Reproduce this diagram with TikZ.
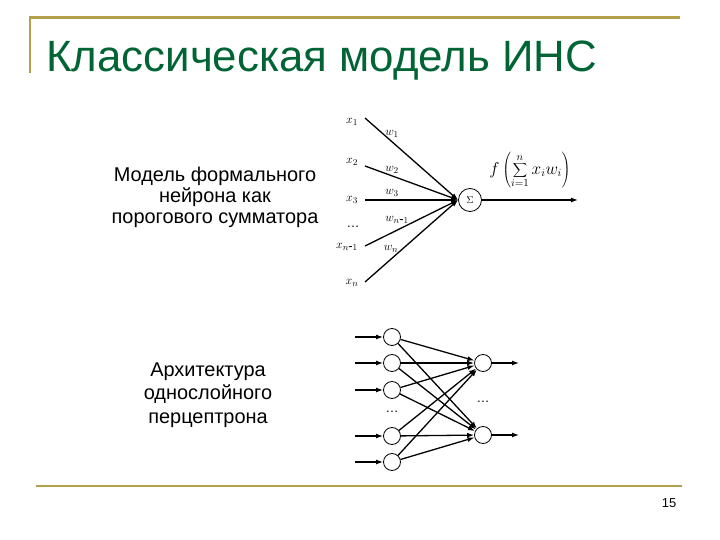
\documentclass[tikz,border=0pt]{standalone}
\usepackage{fontspec}
\setmainfont{Liberation Sans}
\usepackage{tikz}
\usetikzlibrary{arrows.meta}
\definecolor{titlegreen}{RGB}{0,100,52}
\definecolor{rulegold}{RGB}{178,160,74}

\begin{document}
\begin{tikzpicture}[x=1bp,y=-1bp,
    lab/.style={inner sep=0pt,font=\fontsize{13}{14}\selectfont},
    caption/.style={align=center,inner sep=0pt,font=\fontsize{20}{21}\selectfont},
    unit/.style={circle,draw,minimum size=17bp,inner sep=0pt,line width=0.8bp},
    wire/.style={-{Latex[length=7bp,width=5bp]},line width=1.3bp}]
  \useasboundingbox (0,0) rectangle (720,540);
  \draw[rulegold,line width=2.5bp] (30,73) -- (30,17.5) -- (680,17.5);
  \draw[rulegold,line width=2.5bp] (36,486) -- (682,486);
  \node[anchor=base west,text=titlegreen,inner sep=0pt,font=\fontsize{44}{45}\selectfont] (title) at (46,72) {Классическая модель ИНС};
  \node[inner sep=0pt,font=\fontsize{13}{14}\selectfont] (page) at (669,503) {15};

  \node[caption] (cap1) at (215,197) {Модель формального\\нейрона как\\порогового сумматора};
  \node[caption,font=\fontsize{20}{23.5}\selectfont] (cap2) at (208,395) {Архитектура\\однослойного\\перцептрона};

  \node[unit,minimum size=23bp] (sum) at (470,200) {$\Sigma$};
  \coordinate (hub) at (sum.west);
  \coordinate (out) at (578,200);
  \node[lab] (x1) at (352,122) {$x_1$};
  \node[lab] (x2) at (352,162) {$x_2$};
  \node[lab] (x3) at (352,200) {$x_3$};
  \node[lab] (xd) at (353,227) {\dots};
  \node[lab] (xm) at (347,247) {$x_{n\mbox{-}1}$};
  \node[lab] (xn) at (352,283) {$x_n$};
  \coordinate (s1) at (365,118);
  \coordinate (s2) at (365,166);
  \coordinate (s3) at (365,200);
  \coordinate (sm) at (365,246);
  \coordinate (sn) at (365,282);
  \foreach \s in {s1,s2,s3,sm,sn}
    \draw[wire] (\s) -- (hub);
  \draw[wire] (sum) -- (out);
  \node[lab] (w1) at (392,134) {$w_1$};
  \node[lab] (w2) at (392,170) {$w_2$};
  \node[lab] (w3) at (392,193) {$w_3$};
  \node[lab] (wm) at (397,220) {$w_{n\mbox{-}1}$};
  \node[lab] (wn) at (391,249) {$w_n$};
  \node[lab,font=\fontsize{16}{17}\selectfont] (fx) at (530,170) {$\displaystyle f\left(\sum_{i=1}^{n} x_i w_i\right)$};

  \node[unit] (a1) at (392,337) {};
  \node[unit] (a2) at (392,363) {};
  \node[unit] (a3) at (392,390) {};
  \node[lab] (ad) at (392,412) {\dots};
  \node[unit] (a4) at (392,436) {};
  \node[unit] (a5) at (392,462) {};
  \node[unit] (b1) at (483,363) {};
  \node[lab] (bd) at (483,402) {\dots};
  \node[unit] (b2) at (483,435) {};
  \foreach \a in {a1,a2,a3,a4,a5} {
    \coordinate (in-\a) at ([xshift=-37bp]\a.center);
    \draw[wire] (in-\a) -- (\a);
    \foreach \b in {b1,b2}
      \draw[wire] (\a) -- (\b);
  }
  \foreach \b in {b1,b2} {
    \coordinate (out-\b) at ([xshift=36bp]\b.center);
    \draw[wire] (\b) -- (out-\b);
  }
\end{tikzpicture}
\end{document}
